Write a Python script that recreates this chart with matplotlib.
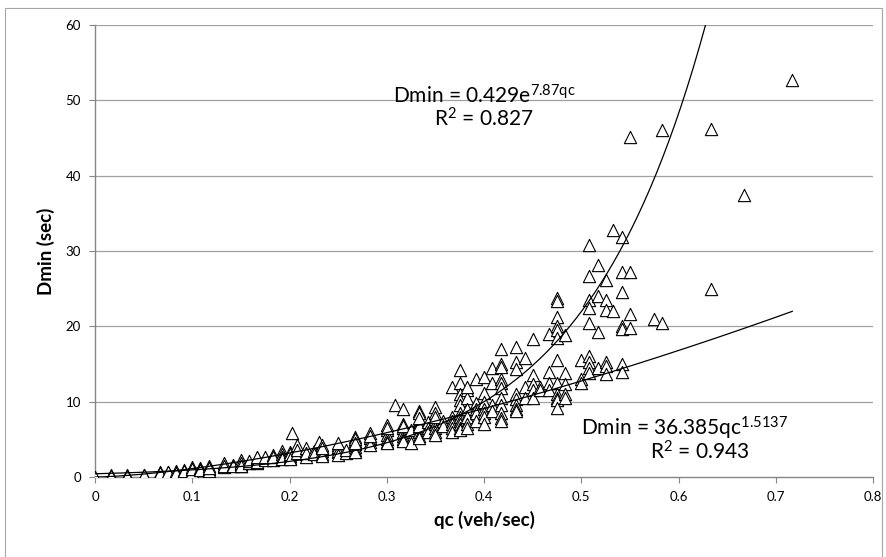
import numpy as np
import matplotlib
matplotlib.use("Agg")
import matplotlib.pyplot as plt
from matplotlib.patches import Rectangle

plt.rcParams['font.family'] = ['Lato', 'DejaVu Sans']
plt.rcParams['mathtext.fontset'] = 'custom'
plt.rcParams['mathtext.rm'] = 'Lato'
plt.rcParams['mathtext.it'] = 'Lato'

# qc columns (veh/sec) and the Dmin values observed at each one
qc_cols = [0.0, 0.0167, 0.033, 0.05, 0.067, 0.075, 0.083, 0.092, 0.1, 0.108,
           0.117, 0.133, 0.142, 0.15, 0.158, 0.167, 0.175, 0.183, 0.192, 0.2,
           0.203, 0.208, 0.217, 0.225, 0.23, 0.233, 0.25, 0.258, 0.267, 0.283,
           0.3, 0.308, 0.317, 0.325, 0.333, 0.342, 0.35, 0.358, 0.367, 0.375,
           0.383, 0.392, 0.4, 0.408, 0.417, 0.433, 0.442, 0.45, 0.458, 0.467,
           0.475, 0.483, 0.5, 0.508, 0.517, 0.525, 0.533, 0.542, 0.55, 0.575,
           0.583, 0.633, 0.667, 0.717]
dmin_cols = [
    [0.0], [0.2, 0.1], [0.2, 0.1], [0.3, 0.2], [0.6, 0.4, 0.5], [0.6, 0.7],
    [0.7, 0.8, 0.5], [0.9, 0.8], [1.0, 0.8, 1.3, 0.6, 1.1], [1.2, 1.0, 0.9],
    [1.4, 1.1, 0.8, 1.2], [1.6, 1.3, 1.8, 1.5], [1.6, 1.4],
    [2.0, 1.7, 1.5, 2.2, 1.8, 1.4], [1.9, 2.1], [2.5, 2.2, 1.8, 2.0, 2.6],
    [2.4, 2.2, 2.7], [2.9, 2.5, 2.2, 2.7], [3.5, 3.0, 2.6, 2.4],
    [3.3, 2.8, 2.5, 3.0, 2.4], [5.9], [4.2, 3.2, 3.6],
    [3.5, 3.0, 2.7, 3.8, 3.2], [3.4, 3.0], [4.6],
    [4.0, 3.5, 3.0, 2.8, 4.2, 3.8], [4.3, 3.8, 3.3, 4.0, 3.5, 2.9, 4.5],
    [3.2, 3.6], [5.3, 4.8, 4.4, 4.0, 3.6, 3.3, 5.0, 4.5],
    [5.8, 5.2, 4.7, 4.3, 5.5], [6.9, 6.2, 5.6, 5.1, 4.7, 4.5, 6.5], [9.5],
    [9.0, 7.0, 6.5, 6.0, 5.5, 5.0, 4.8, 6.8], [4.5, 6.2],
    [8.7, 8.5, 7.5, 7.0, 6.5, 6.0, 5.5, 5.2, 6.8, 7.8], [7.3, 6.5, 6.0],
    [9.3, 8.5, 7.7, 7.0, 6.5, 6.0, 5.6, 8.0], [7.5, 6.8],
    [12.0, 8.0, 7.5, 7.0, 6.5, 6.0],
    [14.2, 12.5, 11.0, 10.2, 9.5, 8.5, 8.0, 7.5, 7.0, 6.5, 6.2],
    [11.5, 10.5, 9.0, 8.0, 7.0, 6.5, 12.0], [9.8, 9.0, 8.5, 7.5, 13.0],
    [13.3, 11.2, 10.0, 9.0, 8.5, 8.0, 7.0], [14.5, 12.5, 9.5, 8.8],
    [17.0, 15.0, 14.6, 13.0, 12.5, 11.8, 10.5, 9.5, 8.5, 7.8, 7.5],
    [17.3, 15.3, 14.3, 11.0, 10.3, 9.5, 9.0, 8.7], [15.8, 12.0, 10.5],
    [18.3, 13.5, 12.3, 11.5, 10.5], [12.0, 11.5], [19.0, 14.0, 12.5, 11.5],
    [23.7, 23.3, 21.2, 20.0, 19.5, 18.5, 15.5, 12.5, 11.0, 10.5, 10.2, 9.2],
    [18.8, 13.8, 12.3, 11.0, 10.5], [15.5, 13.0, 12.5],
    [30.8, 26.7, 23.5, 22.5, 20.5, 16.0, 15.3, 14.5, 13.8],
    [28.2, 24.0, 19.2, 14.5], [26.2, 23.5, 22.2, 15.2, 14.8, 13.7],
    [32.8, 22.0], [31.8, 27.2, 24.5, 20.0, 19.7, 15.0, 14.0],
    [45.1, 27.2, 21.7, 19.8], [21.0], [46.0, 20.5], [46.2, 25.0], [37.5],
    [52.7],
]

# trendline coefficients as printed on the chart
exp_a, exp_b = 0.429, 7.87
pow_a, pow_b = 36.385, 1.5137

qc = np.concatenate([[q] * len(d) for q, d in zip(qc_cols, dmin_cols)])
dmin = np.concatenate(dmin_cols)

fig = plt.figure(figsize=(8.87, 5.57), dpi=100)
ax = fig.add_axes([95 / 887, 1 - 477 / 557, 778 / 887, 452 / 557])

# outer chart border
fig.patches.append(Rectangle((5 / 887, -0.02), 877 / 887, 1 - 8 / 557 + 0.02,
                             transform=fig.transFigure, fill=False,
                             edgecolor='#a6a6a6', linewidth=0.8))

for yv in range(10, 70, 10):
    ax.axhline(yv, color='#a0a0a0', linewidth=0.9, zorder=0)

ax.scatter(qc, dmin, marker='^', s=78, facecolors='white', edgecolors='black',
           linewidths=0.8, zorder=3)

xs = np.linspace(0, 0.717, 300)
ax.plot(xs, pow_a * xs ** pow_b, color='black', linewidth=0.9, zorder=4)
xe = np.linspace(0, 0.63, 300)
ax.plot(xe, exp_a * np.exp(exp_b * xe), color='black', linewidth=0.9, zorder=4)

ax.set_xlim(0, 0.8)
ax.set_ylim(0, 60)
ax.set_xticks(np.arange(0, 0.81, 0.1))
ax.set_xticklabels(['0', '0.1', '0.2', '0.3', '0.4', '0.5', '0.6', '0.7', '0.8'])
ax.set_yticks(range(0, 61, 10))
for s in ['top', 'right']:
    ax.spines[s].set_visible(False)
for s in ['left', 'bottom']:
    ax.spines[s].set_color('#868686')
    ax.spines[s].set_linewidth(1.0)
ax.tick_params(axis='both', direction='out', length=4, color='#868686',
               labelsize=9.5, pad=6)

ax.set_xlabel('qc (veh/sec)', fontsize=13.5, fontweight='bold', labelpad=6)
ax.set_ylabel('Dmin (sec)', fontsize=13.5, fontweight='bold', labelpad=8)

fig.text(484 / 887, 1 - 96 / 557, 'Dmin = 0.429e$^{7.87qc}$', fontsize=15,
         ha='center', va='center')
fig.text(484 / 887, 1 - 119 / 557, 'R$^{2}$ = 0.827', fontsize=15,
         ha='center', va='center')
fig.text(685 / 887, 1 - 428 / 557, 'Dmin = 36.385qc$^{1.5137}$', fontsize=15,
         ha='center', va='center')
fig.text(700 / 887, 1 - 452 / 557, 'R$^{2}$ = 0.943', fontsize=15,
         ha='center', va='center')

fig.savefig('out.png', dpi=100)
